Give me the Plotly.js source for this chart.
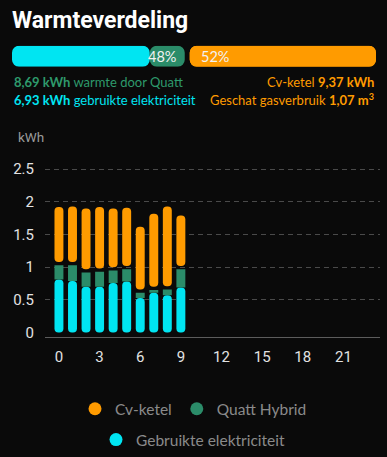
<!DOCTYPE html>
<html><head><meta charset="utf-8">
<script src="https://cdn.plot.ly/plotly-3.0.1.min.js"></script>
<style>html,body{margin:0;padding:0;background:#0a0a0a;overflow:hidden}#chart{width:387px;height:457px}</style>
</head><body><div id="chart"></div>
<script>
// ---- data ----
const hours = [0,1,2,3,4,5,6,7,8,9];
const elektriciteit = [0.81,0.79,0.70,0.70,0.76,0.78,0.53,0.61,0.57,0.69];
const quattHybrid   = [0.22,0.24,0.22,0.23,0.19,0.19,0.08,0.04,0.09,0.28];
const cvKetel       = [0.84,0.85,0.93,0.94,0.90,0.89,0.96,1.12,1.22,0.77];
const xTickVals = [0,3,6,9,12,15,18,21];
const yTickVals = [0,0.5,1,1.5,2,2.5];
const seriesNames = ['Cv-ketel','Quatt Hybrid','Gebruikte elektriciteit'];
const quattWarmteTotaal = 8.69;
const elektriciteitTotaal = 6.93;
const cvKetelTotaal = 9.37;
const gasverbruikTotaal = 1.07;

// ---- styles ----
const W = 387, H = 457;
const CYAN = '#00e5f2', GREEN = '#2b8c69', ORANGE = '#ff9b00';
const BG = '#0a0a0a';
const STACK_GAP = 0.05;           // visual gap (kWh) between Quatt and Cv-ketel segments
const fmt = v => v.toFixed(2).replace('.', ',');
const px = (p) => p / W, py = (p) => (H - p) / H;

const quattTop = hours.map((h,i) => elektriciteit[i] + quattHybrid[i]);

const traces = [];
// main chart bars
traces.push({type:'bar', x:hours, base:elektriciteit, y:elektriciteit.map(v=>-v), width:0.66,
  marker:{color:CYAN, cornerradius:'50%', line:{width:0}}, showlegend:false, hoverinfo:'skip', xaxis:'x', yaxis:'y'});
traces.push({type:'bar', x:hours, base:elektriciteit, y:quattHybrid, width:0.66,
  marker:{color:GREEN, line:{width:0}}, showlegend:false, hoverinfo:'skip', xaxis:'x', yaxis:'y'});
traces.push({type:'bar', x:hours, base:quattTop.map(v=>v+STACK_GAP), y:cvKetel, width:0.66,
  marker:{color:ORANGE, cornerradius:'50%', line:{width:0}}, showlegend:false, hoverinfo:'skip', xaxis:'x', yaxis:'y'});

// legend entries (circle symbols)
const legendColors = [ORANGE, GREEN, CYAN];
seriesNames.forEach((n,i) => traces.push({type:'scatter', x:[null], y:[null], mode:'markers', name:n,
  marker:{symbol:'circle', size:13, color:legendColors[i]}, legend: i<2 ? 'legend' : 'legend2', hoverinfo:'skip'}));

// summary bar on top
const totaal = quattWarmteTotaal + cvKetelTotaal;
const barPx = 364, gapPx = 5;
const topGap = gapPx * totaal / (barPx - gapPx);
const hb = {type:'bar', orientation:'h', y:[0], width:1, xaxis:'x2', yaxis:'y2', showlegend:false, hoverinfo:'skip'};
traces.push(Object.assign({}, hb, {base:[elektriciteitTotaal], x:[-elektriciteitTotaal], marker:{color:CYAN, cornerradius:7}}));
traces.push(Object.assign({}, hb, {base:[elektriciteitTotaal], x:[quattWarmteTotaal-elektriciteitTotaal], marker:{color:GREEN, cornerradius:7}}));
traces.push(Object.assign({}, hb, {base:[quattWarmteTotaal+topGap+cvKetelTotaal], x:[-cvKetelTotaal], marker:{color:ORANGE, cornerradius:7}}));
traces.push(Object.assign({}, hb, {base:[quattWarmteTotaal+topGap], x:[cvKetelTotaal], marker:{color:ORANGE, cornerradius:7}}));

const pctQ = Math.round(100*quattWarmteTotaal/totaal);
const pctC = 100 - pctQ;
const TXT = 'Lato, sans-serif', NUM = 'Roboto, sans-serif';

const annotations = [
  {xref:'x2', yref:'y2', x:quattWarmteTotaal, y:0, xanchor:'right', yanchor:'middle', xshift:-7, showarrow:false,
   text: pctQ + '%', font:{family:TXT, size:14.5, color:'#f2f2f2'}},
  {xref:'x2', yref:'y2', x:quattWarmteTotaal+topGap, y:0, xanchor:'left', yanchor:'middle', xshift:9, showarrow:false,
   text: pctC + '%', font:{family:TXT, size:14.5, color:'#f2f2f2'}},
  {xref:'paper', yref:'paper', x:px(12), y:py(82), xanchor:'left', yanchor:'middle', showarrow:false,
   text:'<b>'+fmt(quattWarmteTotaal)+' kWh</b> warmte door Quatt', font:{family:TXT, size:13, color:'#2e9a6c'}},
  {xref:'paper', yref:'paper', x:px(12), y:py(100), xanchor:'left', yanchor:'middle', showarrow:false,
   text:'<b>'+fmt(elektriciteitTotaal)+' kWh</b> gebruikte elektriciteit', font:{family:TXT, size:13, color:CYAN}},
  {xref:'paper', yref:'paper', x:px(376), y:py(82), xanchor:'right', yanchor:'middle', showarrow:false,
   text:'Cv-ketel <b>'+fmt(cvKetelTotaal)+' kWh</b>', font:{family:TXT, size:13, color:ORANGE}},
  {xref:'paper', yref:'paper', x:px(376), y:py(100), xanchor:'right', yanchor:'middle', showarrow:false,
   text:'Geschat gasverbruik <b>'+fmt(gasverbruikTotaal)+' m<sup>3</sup></b>', font:{family:TXT, size:13, color:ORANGE}},
  {xref:'paper', yref:'paper', x:px(16), y:py(138), xanchor:'left', yanchor:'middle', showarrow:false,
   text:'kWh', font:{family:NUM, size:13.5, color:'#9a9a9a'}}
];

const legendBase = {orientation:'h', xanchor:'center', x:0.5, yanchor:'middle', bgcolor:'rgba(0,0,0,0)',
  font:{family:TXT, size:15.5, color:'#8a8a8a'}, itemwidth:30, traceorder:'normal'};

const layout = {
  width:W, height:H, autosize:false,
  margin:{l:0, r:0, t:0, b:0, pad:0},
  paper_bgcolor:BG, plot_bgcolor:BG,
  barmode:'overlay',
  title:{text:'Warmteverdeling', x:px(12), xanchor:'left', xref:'paper', y:py(20), yanchor:'middle', yref:'paper',
    font:{family:NUM, size:23, weight:700, color:'#ffffff'}},
  xaxis:{domain:[px(45), px(380)], range:[-1.03, 23.7], tickvals:xTickVals, showgrid:false, zeroline:false,
    showline:true, linecolor:'#5c5c5c', linewidth:1, ticks:'', ticklabelstandoff:6,
    tickfont:{family:NUM, size:15, color:'#e2e2e2'}, fixedrange:true, anchor:'y'},
  yaxis:{domain:[py(338), py(168)], range:[-0.061, 2.53], tickvals:yTickVals, showgrid:true, gridcolor:'#4a4a4a',
    griddash:'5px,4px', gridwidth:1, zeroline:true, zerolinecolor:BG, zerolinewidth:2, showline:false, ticks:'',
    ticklabelstandoff:10, tickfont:{family:NUM, size:15, color:'#e2e2e2'}, fixedrange:true, anchor:'x'},
  xaxis2:{domain:[px(12), px(376)], range:[0, totaal+topGap], visible:false, fixedrange:true, anchor:'y2'},
  yaxis2:{domain:[py(67), py(46)], range:[-0.5, 0.5], visible:false, fixedrange:true, anchor:'x2'},
  legend:Object.assign({}, legendBase, {y:py(411)}),
  legend2:Object.assign({}, legendBase, {y:py(442)}),
  annotations:annotations,
  showlegend:true
};

Plotly.newPlot('chart', traces, layout, {displayModeBar:false, staticPlot:true});
</script>
</body></html>
